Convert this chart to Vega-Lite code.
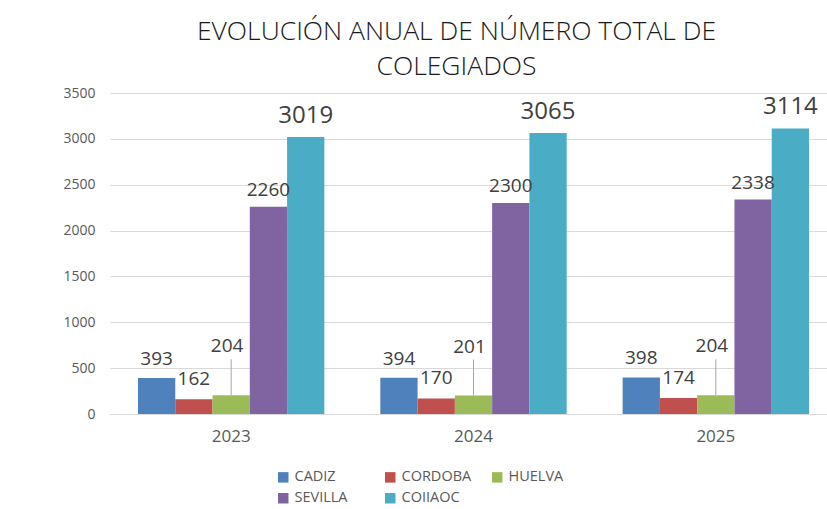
{
  "$schema": "https://vega.github.io/schema/vega-lite/v6.json",
  "autosize": "none",
  "width": 727,
  "height": 321,
  "padding": {"left": 110, "top": 93, "right": 0, "bottom": 95},
  "background": "white",
  "config": {
    "view": {"stroke": null},
    "font": "Open Sans"
  },
  "title": {
    "text": "EVOLUCIÓN ANUAL DE NÚMERO TOTAL DE",
    "subtitle": "COLEGIADOS",
    "font": "Open Sans",
    "fontSize": 26.5,
    "fontWeight": 300,
    "color": "#1a1a1a",
    "subtitleFont": "Open Sans",
    "subtitleFontSize": 26.5,
    "subtitleFontWeight": 300,
    "subtitleColor": "#1a1a1a",
    "subtitlePadding": 8,
    "anchor": "middle",
    "dx": -17,
    "offset": 6
  },
  "data": {
    "values": [
      {"year": "2023", "series": "CADIZ", "value": 393},
      {"year": "2023", "series": "CORDOBA", "value": 162},
      {"year": "2023", "series": "HUELVA", "value": 204},
      {"year": "2023", "series": "SEVILLA", "value": 2260},
      {"year": "2023", "series": "COIIAOC", "value": 3019},
      {"year": "2024", "series": "CADIZ", "value": 394},
      {"year": "2024", "series": "CORDOBA", "value": 170},
      {"year": "2024", "series": "HUELVA", "value": 201},
      {"year": "2024", "series": "SEVILLA", "value": 2300},
      {"year": "2024", "series": "COIIAOC", "value": 3065},
      {"year": "2025", "series": "CADIZ", "value": 398},
      {"year": "2025", "series": "CORDOBA", "value": 174},
      {"year": "2025", "series": "HUELVA", "value": 204},
      {"year": "2025", "series": "SEVILLA", "value": 2338},
      {"year": "2025", "series": "COIIAOC", "value": 3114}
    ]
  },
  "encoding": {
    "x": {
      "field": "year", "type": "nominal",
      "scale": {"paddingInner": 0.231, "paddingOuter": 0.1155},
      "axis": {
        "title": null, "labelAngle": 0, "ticks": false,
        "domainColor": "#d9d9d9", "domainWidth": 1,
        "labelFontSize": 17, "labelColor": "#595959", "labelPadding": 14,
        "labelFont": "Open Sans"
      }
    },
    "xOffset": {
      "field": "series", "type": "nominal",
      "sort": ["CADIZ", "CORDOBA", "HUELVA", "SEVILLA", "COIIAOC"],
      "scale": {"paddingInner": 0, "paddingOuter": 0}
    },
    "y": {
      "field": "value", "type": "quantitative",
      "scale": {"domain": [0, 3500], "nice": false},
      "axis": {
        "title": null, "values": [0, 500, 1000, 1500, 2000, 2500, 3000, 3500],
        "format": "d", "labelOverlap": false,
        "domain": false, "ticks": false,
        "gridColor": "#d9d9d9", "gridWidth": 1,
        "labelFontSize": 14, "labelColor": "#595959", "labelPadding": 15,
        "labelFont": "Open Sans"
      }
    }
  },
  "layer": [
    {
      "mark": {"type": "bar"},
      "encoding": {
        "color": {
          "field": "series", "type": "nominal",
          "sort": ["CADIZ", "CORDOBA", "HUELVA", "SEVILLA", "COIIAOC"],
          "scale": {
            "domain": ["CADIZ", "CORDOBA", "HUELVA", "SEVILLA", "COIIAOC"],
            "range": ["#4F81BD", "#C0504D", "#9BBB59", "#8064A2", "#4BACC6"]
          },
          "legend": {
            "title": null, "orient": "none", "legendX": 166, "legendY": 377,
            "direction": "horizontal", "columns": 3, "gridAlign": "all",
            "columnPadding": 18, "rowPadding": 6,
            "symbolType": "square", "symbolSize": 110, "symbolStrokeWidth": 0,
            "labelFontSize": 14.5, "labelColor": "#595959", "labelFont": "Open Sans",
            "labelOffset": 4
          }
        }
      }
    },
    {
      "transform": [{"filter": "datum.series == 'CADIZ'"}],
      "mark": {"type": "text", "baseline": "middle", "dy": -19, "fontSize": 19, "color": "#404040", "font": "Open Sans"},
      "encoding": {"text": {"field": "value", "type": "quantitative"}}
    },
    {
      "transform": [{"filter": "datum.series == 'CORDOBA'"}],
      "mark": {"type": "text", "baseline": "middle", "dy": -20, "fontSize": 19, "color": "#404040", "font": "Open Sans"},
      "encoding": {"text": {"field": "value", "type": "quantitative"}}
    },
    {
      "transform": [{"filter": "datum.series == 'HUELVA'"}],
      "mark": {"type": "text", "baseline": "middle", "dy": -49, "dx": -4, "fontSize": 19, "color": "#404040", "font": "Open Sans"},
      "encoding": {"text": {"field": "value", "type": "quantitative"}}
    },
    {
      "transform": [{"filter": "datum.series == 'HUELVA'"}],
      "mark": {"type": "rule", "color": "#a6a6a6", "strokeWidth": 1, "y2Offset": -36},
      "encoding": {"y2": {"field": "value"}}
    },
    {
      "transform": [{"filter": "datum.series == 'SEVILLA'"}],
      "mark": {"type": "text", "baseline": "middle", "dy": -17, "fontSize": 19, "color": "#404040", "font": "Open Sans"},
      "encoding": {"text": {"field": "value", "type": "quantitative"}}
    },
    {
      "transform": [{"filter": "datum.series == 'COIIAOC'"}],
      "mark": {"type": "text", "baseline": "middle", "dy": -21, "fontSize": 24, "color": "#404040", "font": "Open Sans"},
      "encoding": {"text": {"field": "value", "type": "quantitative"}}
    }
  ]
}
